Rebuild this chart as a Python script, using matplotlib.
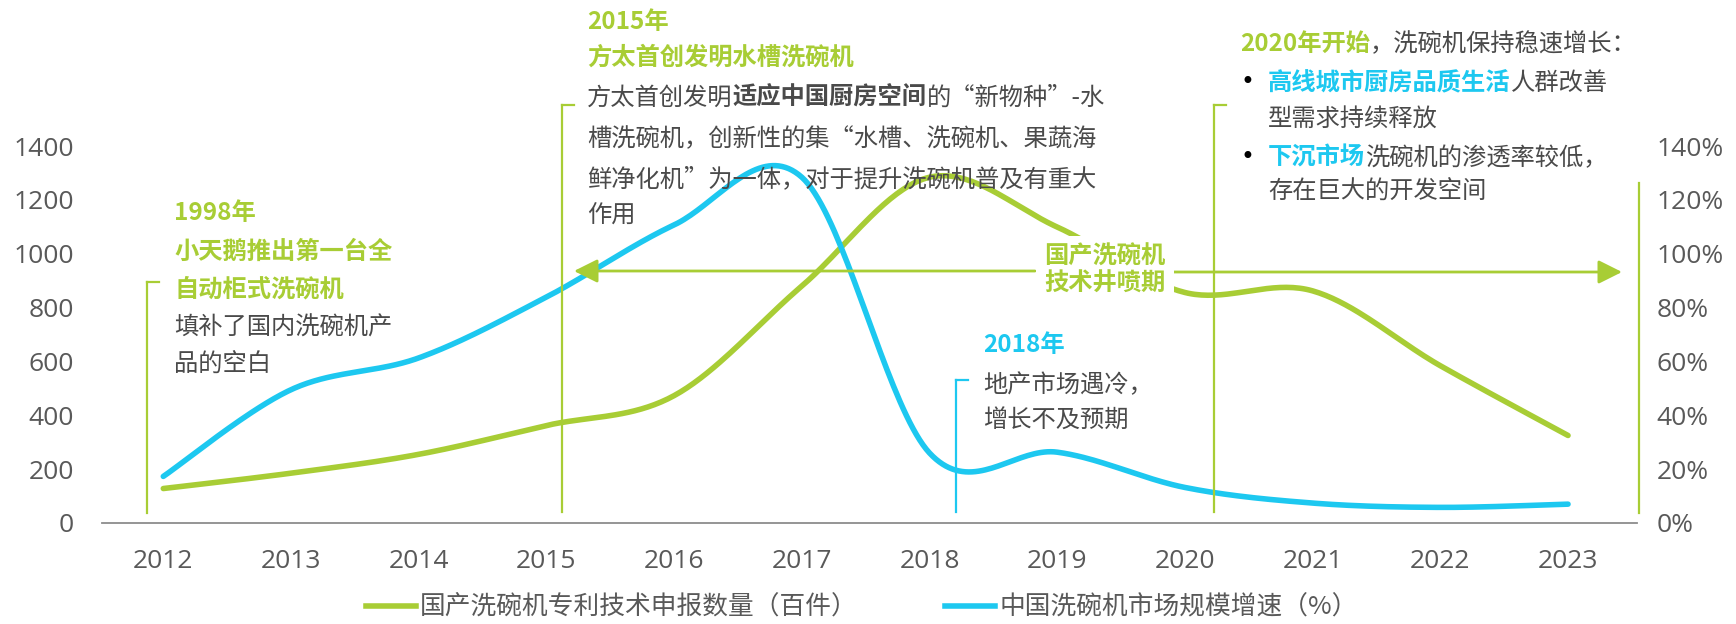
import numpy as np
import matplotlib
matplotlib.use('Agg')
import matplotlib.pyplot as plt
from matplotlib.lines import Line2D
from matplotlib.patches import FancyArrowPatch

plt.rcParams['font.family'] = ['Noto Sans CJK SC', 'DejaVu Sans']

# ---------------- data ----------------
years = [2012, 2013, 2014, 2015, 2016, 2017, 2018, 2019, 2020, 2021, 2022, 2023]
patents = [128, 185, 255, 362, 473, 880, 1284, 1099, 856, 862, 584, 325]          # 百件
growth = [17.3, 49.5, 61.3, 83.9, 110.7, 128.4, 26.0, 26.3, 13.2, 7.4, 5.8, 7.0]  # %
left_ticks = [0, 200, 400, 600, 800, 1000, 1200, 1400]
right_ticks = [0, 20, 40, 60, 80, 100, 120, 140]
legend_labels = ['国产洗碗机专利技术申报数量（百件）', '中国洗碗机市场规模增速（%）']

GREEN = '#A8CD35'
CYAN = '#1DC8F0'
GRAY = '#4a4a4a'
TICK = '#595959'

W, H = 1736, 624


def smooth(x, y, n=40):
    P = np.column_stack([np.asarray(x, float), np.asarray(y, float)])
    ext = np.vstack([P[0], P, P[-1]])
    t = np.linspace(0, 1, n)[:, None]
    out = []
    for i in range(len(P) - 1):
        p0, p3 = P[i], P[i + 1]
        c1 = p0 + (ext[i + 2] - ext[i]) / 6
        c2 = p3 - (ext[i + 3] - ext[i + 1]) / 6
        seg = (1 - t) ** 3 * p0 + 3 * (1 - t) ** 2 * t * c1 + 3 * (1 - t) * t ** 2 * c2 + t ** 3 * p3
        out.append(seg if i == 0 else seg[1:])
    s = np.vstack(out)
    return s[:, 0], s[:, 1]


def F(x, y):
    return (x / W, 1 - y / H)


fig = plt.figure(figsize=(W / 100, H / 100), dpi=100)
ax = fig.add_axes([102 / W, 1 - 523 / H, (1637 - 102) / W, (523 - 146) / H])
ax2 = ax.twinx()

ax.set_xlim(2011.52, 2023.54)
ax.set_ylim(0, 1400)
ax2.set_ylim(0, 140)

gx, gy = smooth(years, patents)
bx, by = smooth(years, growth)
ax.plot(gx, gy, color=GREEN, lw=4, solid_capstyle='round', zorder=3)
ax2.plot(bx, by, color=CYAN, lw=4, solid_capstyle='round', zorder=3)

for a in (ax, ax2):
    for sp in a.spines.values():
        sp.set_visible(False)
    a.tick_params(length=0)
ax.spines['bottom'].set_visible(True)
ax.spines['bottom'].set_color('#8c8c8c')
ax.spines['bottom'].set_linewidth(1.3)

TF = dict(family=['Open Sans', 'DejaVu Sans'], size=19, color=TICK)
ax.set_xticks(years)
ax.set_xticklabels([str(y) for y in years], **TF)
ax.set_yticks(left_ticks)
ax.set_yticklabels([str(v) for v in left_ticks], **TF)
ax2.set_yticks(right_ticks)
ax2.set_yticklabels([f'{v}%' for v in right_ticks], **TF)
ax.tick_params(axis='x', pad=19)
ax.tick_params(axis='y', pad=20)
ax2.tick_params(axis='y', pad=14)

FS = 17.5
tf = fig.transFigure


def bracket(x, ytop, ybot, color, tick=12):
    fig.add_artist(Line2D([x / W, x / W], [1 - ytop / H, 1 - ybot / H], color=color, lw=1.6, transform=tf))
    if tick:
        fig.add_artist(Line2D([x / W, (x + tick) / W], [1 - ytop / H, 1 - ytop / H], color=color, lw=1.6, transform=tf))


def txt(x, y, s, color=GRAY, bold=False, **kw):
    return fig.text(*F(x, y), s, color=color, fontsize=kw.pop('fontsize', FS),
                    fontweight='bold' if bold else 'normal', va='center', ha='left', **kw)


def chain(prev, s, color=GRAY, bold=False):
    return ax.annotate(s, xy=(1, 0.5), xycoords=prev, va='center', ha='left', color=color,
                       fontsize=FS, fontweight='bold' if bold else 'normal', annotation_clip=False)


# ---- 1998 annotation ----
bracket(147, 282, 513, GREEN)
txt(174, 213, '1998年', GREEN, True)
txt(174, 252, '小天鹅推出第一台全', GREEN, True)
txt(174, 290, '自动柜式洗碗机', GREEN, True)
txt(174, 328, '填补了国内洗碗机产')
txt(174, 365, '品的空白')

# ---- 2015 annotation ----
bracket(562, 105, 512, GREEN)
txt(587, 22, '2015年', GREEN, True)
txt(587, 58, '方太首创发明水槽洗碗机', GREEN, True)
t = txt(587, 98, '方太首创发明')
t = chain(t, '适应中国厨房空间', GRAY, True)
chain(t, '的“新物种”-水')
txt(587, 139, '槽洗碗机，创新性的集“水槽、洗碗机、果蔬海')
txt(587, 179, '鲜净化机”为一体，对于提升洗碗机普及有重大')
txt(587, 216, '作用')

# ---- 2018 annotation ----
bracket(956, 380, 512, CYAN)
txt(983, 345, '2018年', CYAN, True)
txt(983, 385, '地产市场遇冷，')
txt(983, 421, '增长不及预期')

# ---- 2020 annotation ----
bracket(1214, 105, 512, GREEN)
t = txt(1240, 44, '2020年开始', GREEN, True)
chain(t, '，洗碗机保持稳速增长：')
txt(1240, 82, '•', '#000000', family=['DejaVu Sans'], fontsize=17)
t = txt(1268, 83, '高线城市厨房品质生活', CYAN, True)
chain(t, '人群改善')
txt(1268, 120, '型需求持续释放')
txt(1240, 157, '•', '#000000', family=['DejaVu Sans'], fontsize=17)
t = txt(1268, 158, '下沉市场', CYAN, True)
chain(t, '洗碗机的渗透率较低，')
txt(1268, 192, '存在巨大的开发空间')

# right vertical line
bracket(1639, 183, 513, GREEN, tick=0)

# ---- arrows & period label ----
arrow_kw = dict(arrowstyle='-|>,head_length=0.9,head_width=0.45', mutation_scale=16,
                color=GREEN, lw=2, shrinkA=0, shrinkB=0, transform=tf)
fig.add_artist(FancyArrowPatch(F(1035, 271), F(574, 271), **arrow_kw))
fig.add_artist(FancyArrowPatch(F(1174, 272), F(1622, 272), **arrow_kw))
fig.text(*F(1105, 270), '国产洗碗机\n技术井喷期', color=GREEN, fontsize=FS, fontweight='bold',
         ha='center', va='center', linespacing=1.15, zorder=5,
         bbox=dict(boxstyle='square,pad=0.35', fc='white', ec='none'))

# ---- legend ----
handles = [Line2D([], [], color=GREEN, lw=4), Line2D([], [], color=CYAN, lw=4)]
leg = fig.legend(handles, legend_labels, loc='center', bbox_to_anchor=(0.4965, 0.026), ncol=2,
                 frameon=False, fontsize=18.5, handlelength=1.95, handletextpad=0.15, columnspacing=3.4)
for tx in leg.get_texts():
    tx.set_color(TICK)

fig.savefig('out.png', dpi=100)
